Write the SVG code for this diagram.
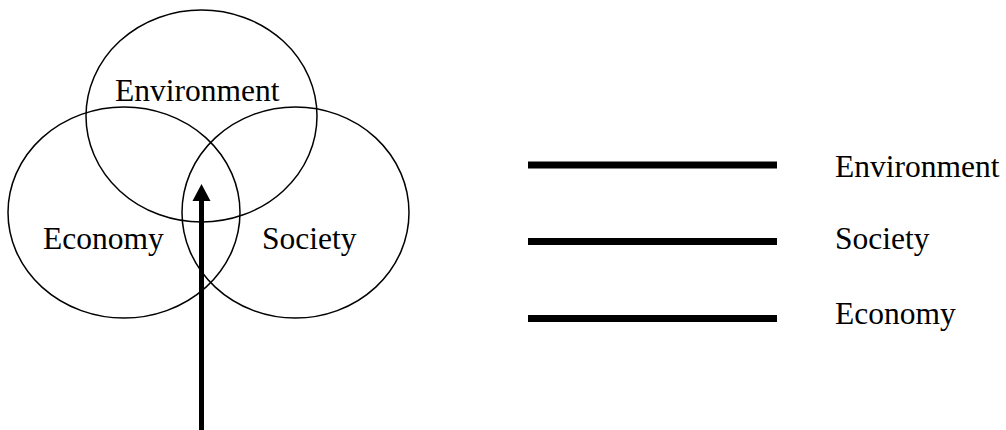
<svg xmlns="http://www.w3.org/2000/svg" width="1006" height="430" viewBox="0 0 1006 430">
<style>
.c{fill:none;stroke:#000;stroke-width:1.5}
.t{font-family:"Liberation Serif","Times New Roman",serif;font-size:31.5px;fill:#000}
.l{stroke:#000;stroke-width:7}
</style>
<rect width="1006" height="430" fill="#fff"/>
<g id="environment"><ellipse class="c" cx="201.5" cy="116" rx="115.5" ry="106"/><text class="t" x="115" y="101">Environment</text></g>
<g id="economy"><ellipse class="c" cx="124" cy="212.5" rx="116" ry="105.5"/><text class="t" x="43" y="249">Economy</text></g>
<g id="society"><ellipse class="c" cx="295.5" cy="212.5" rx="113.5" ry="105.5"/><text class="t" x="262" y="249">Society</text></g>
<g id="connectors">
<line x1="201.5" y1="430" x2="201.5" y2="200" stroke="#000" stroke-width="5"/>
<polygon points="201.5,184 210.5,201 192.5,201" fill="#000"/>
</g>
<g id="legend-environment"><line class="l" x1="528" y1="165" x2="777" y2="165"/><text class="t" x="835" y="177">Environment</text></g>
<g id="legend-society"><line class="l" x1="528" y1="241.5" x2="777" y2="241.5"/><text class="t" x="835" y="249">Society</text></g>
<g id="legend-economy"><line class="l" x1="528" y1="318.5" x2="777" y2="318.5"/><text class="t" x="835" y="324">Economy</text></g>
</svg>
